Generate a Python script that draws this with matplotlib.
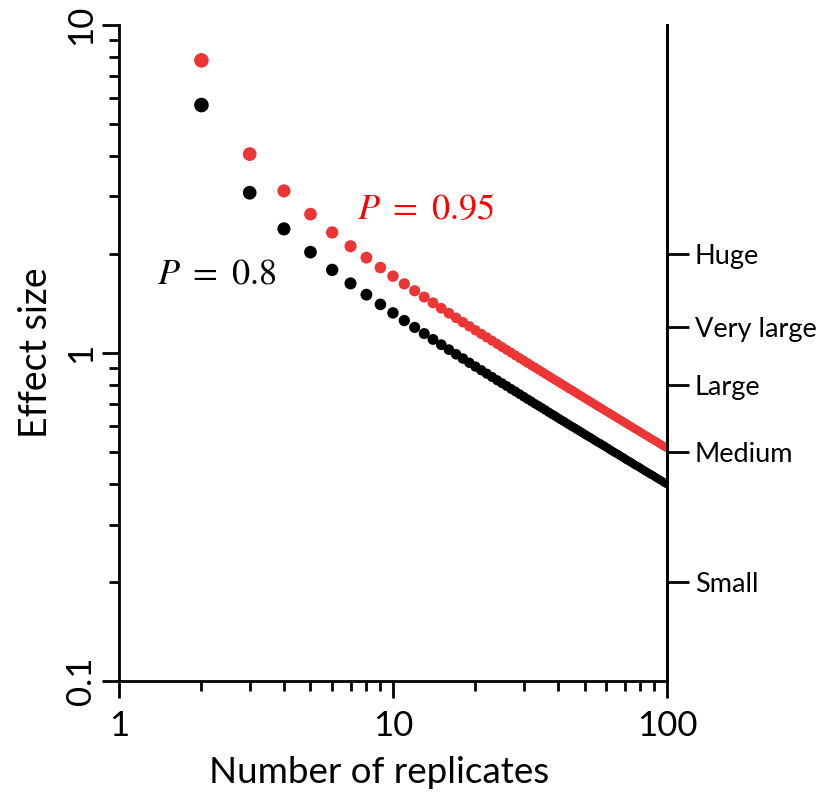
import numpy as np
import matplotlib.pyplot as plt
from matplotlib.ticker import LogLocator, NullFormatter, FixedLocator

# number of replicates (2..100)
n_rep = list(range(2, 101))

# effect size, P = 0.8
eff_80 = [5.70, 3.08, 2.39, 2.03, 1.792, 1.630, 1.506, 1.407, 1.325,
          1.256, 1.197, 1.146, 1.100, 1.060, 1.024, 0.991, 0.962, 0.934, 0.909,
          0.886, 0.865, 0.845, 0.826, 0.809, 0.793, 0.777, 0.763, 0.749, 0.736,
          0.723, 0.712, 0.700, 0.690, 0.680, 0.670, 0.660, 0.651, 0.643, 0.634,
          0.626, 0.619, 0.611, 0.604, 0.597, 0.591, 0.584, 0.578, 0.572, 0.566,
          0.560, 0.555, 0.550, 0.544, 0.539, 0.534, 0.530, 0.525, 0.521, 0.516,
          0.512, 0.507, 0.503, 0.499, 0.495, 0.492, 0.488, 0.484, 0.481, 0.477,
          0.473, 0.470, 0.467, 0.464, 0.461, 0.457, 0.454, 0.452, 0.449, 0.446,
          0.443, 0.440, 0.437, 0.435, 0.432, 0.430, 0.427, 0.425, 0.423, 0.420,
          0.418, 0.415, 0.413, 0.411, 0.409, 0.407, 0.404, 0.402, 0.400, 0.398]

# effect size, P = 0.95
eff_95 = [7.80, 4.04, 3.12, 2.65, 2.331, 2.116, 1.953, 1.822, 1.715,
          1.625, 1.548, 1.481, 1.422, 1.369, 1.322, 1.280, 1.241, 1.206, 1.173,
          1.143, 1.116, 1.090, 1.066, 1.043, 1.022, 1.002, 0.983, 0.965, 0.949,
          0.932, 0.917, 0.903, 0.889, 0.876, 0.863, 0.851, 0.839, 0.828, 0.818,
          0.807, 0.797, 0.788, 0.778, 0.770, 0.761, 0.753, 0.744, 0.737, 0.729,
          0.722, 0.715, 0.708, 0.701, 0.694, 0.688, 0.682, 0.676, 0.670, 0.664,
          0.659, 0.653, 0.648, 0.643, 0.638, 0.633, 0.628, 0.624, 0.619, 0.614,
          0.610, 0.605, 0.601, 0.597, 0.593, 0.589, 0.585, 0.582, 0.578, 0.574,
          0.570, 0.567, 0.563, 0.560, 0.557, 0.553, 0.550, 0.547, 0.544, 0.541,
          0.538, 0.535, 0.532, 0.529, 0.526, 0.523, 0.521, 0.518, 0.515, 0.513]

# Cohen-style size labels on the right axis
size_vals = [0.2, 0.5, 0.8, 1.2, 2.0]
size_labels = ['Small', 'Medium', 'Large', 'Very large', 'Huge']

plt.rcParams['font.family'] = ['Lato', 'DejaVu Sans']
plt.rcParams['mathtext.fontset'] = 'stix'

red = '#ee3535'

fig = plt.figure(figsize=(8.26, 7.93), dpi=100)
ax = fig.add_axes([0.144, 0.1412, 0.6635, 0.8273])

n_arr = np.array(n_rep)
# marker diameter in points shrinks with n
diam = 10.5 * (n_arr / 2.0) ** -0.15
ax.scatter(n_rep, eff_80, s=diam**2, color='black', lw=0, zorder=3)
ax.scatter(n_rep, eff_95, s=diam**2, color=red, lw=0, zorder=3)

ax.set_xscale('log')
ax.set_yscale('log')
ax.set_xlim(1, 100)
ax.set_ylim(0.1, 10)

ax.set_xticks([1, 10, 100])
ax.set_xticklabels(['1', '10', '100'])
ax.set_yticks([0.1, 1, 10])
ax.set_yticklabels(['0.1', '1', '10'], rotation=90, va='center')
ax.xaxis.set_minor_locator(LogLocator(base=10, subs=np.arange(2, 10)))
ax.yaxis.set_minor_locator(LogLocator(base=10, subs=np.arange(2, 10)))
ax.xaxis.set_minor_formatter(NullFormatter())
ax.yaxis.set_minor_formatter(NullFormatter())

ax.tick_params(which='major', length=12, width=2, labelsize=25, direction='out')
ax.tick_params(axis='x', which='major', pad=9)
ax.tick_params(axis='y', which='major', pad=4)
ax.tick_params(which='minor', length=7, width=2, direction='out')
ax.tick_params(axis='x', which='both', top=False)
ax.tick_params(axis='y', which='both', right=False)

for side in ['left', 'bottom', 'right']:
    ax.spines[side].set_linewidth(2)
ax.spines['top'].set_visible(False)

ax.set_xlabel('Number of replicates', fontsize=26.5)
ax.xaxis.set_label_coords(0.474, -0.115)
ax.set_ylabel('Effect size', fontsize=27)
ax.yaxis.set_label_coords(-0.118, 0.5)

ax.text(7.4, 2.77, r'$P\ =\ 0.95$', color='#ff0000', fontsize=26, va='center', ha='left')
ax.text(1.38, 1.75, r'$P\ =\ 0.8$', color='black', fontsize=26, va='center', ha='left')

ax2 = ax.twinx()
ax2.set_yscale('log')
ax2.set_ylim(0.1, 10)
ax2.yaxis.set_major_locator(FixedLocator(size_vals))
ax2.set_yticklabels(size_labels)
ax2.yaxis.set_minor_locator(FixedLocator([]))
ax2.tick_params(axis='y', which='major', length=16, width=2, labelsize=19.5, pad=4)
ax2.spines['top'].set_visible(False)
ax2.spines['right'].set_linewidth(2)

fig.savefig('out.png', dpi=100)
